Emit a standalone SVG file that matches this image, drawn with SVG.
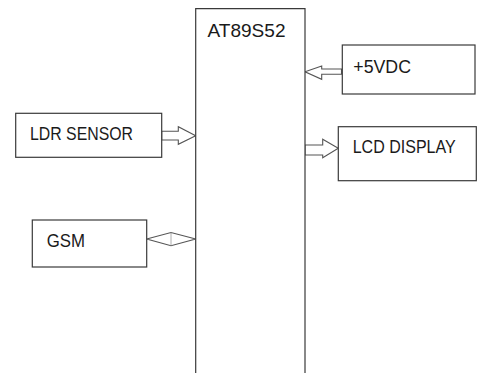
<svg xmlns="http://www.w3.org/2000/svg" width="477" height="373" viewBox="0 0 477 373">
<style>
.box{fill:#fff;stroke:#3a3a3a;stroke-width:1.2}
.arr{fill:#fff;stroke:#555;stroke-width:1.1;stroke-linejoin:miter}
.t{font-family:"Liberation Sans",Arial,sans-serif;font-size:17.8px;fill:#1a1a1a}
</style>
<rect width="477" height="373" fill="#fff"/>
<g id="connectors">
<polygon class="arr" points="161.7,131.3 178.3,131.3 178.3,126.7 195.7,135.7 178.3,144.3 178.3,140 161.7,140"/>
<polygon class="arr" points="146.7,239 171,232.5 195.7,239 171,245.7"/>
<line x1="171" y1="232.5" x2="171" y2="245.7" stroke="#999" stroke-width="0.8"/>
<polygon class="arr" points="341.5,69 321.7,69 321.7,66 305,71.7 321.7,79.3 321.7,74.3 341.5,74.3"/>
<polygon class="arr" points="305,145 322.7,145 322.7,139.3 338.3,148.3 322.7,157.7 322.7,155 305,155"/>
</g>
<g id="mcu">
<path class="box" d="M195.7,374 V8.7 H305 V374"/>
<text class="t" x="207.5" y="36.5" font-size="19" textLength="78" lengthAdjust="spacingAndGlyphs">AT89S52</text>
</g>
<g id="ldr">
<rect class="box" x="15.7" y="113.3" width="146" height="44"/>
<text class="t" x="30" y="140" textLength="103" lengthAdjust="spacingAndGlyphs">LDR SENSOR</text>
</g>
<g id="gsm">
<rect class="box" x="32.3" y="220" width="114.4" height="47"/>
<text class="t" x="46.7" y="246.7" textLength="38.3" lengthAdjust="spacingAndGlyphs">GSM</text>
</g>
<g id="power">
<rect class="box" x="342.3" y="45" width="132.7" height="49"/>
<text class="t" x="353.3" y="73.3" textLength="57.7" lengthAdjust="spacingAndGlyphs">+5VDC</text>
</g>
<g id="lcd">
<rect class="box" x="338.3" y="126.7" width="138" height="54"/>
<text class="t" x="352.7" y="153.3" textLength="103" lengthAdjust="spacingAndGlyphs">LCD DISPLAY</text>
</g>
</svg>
